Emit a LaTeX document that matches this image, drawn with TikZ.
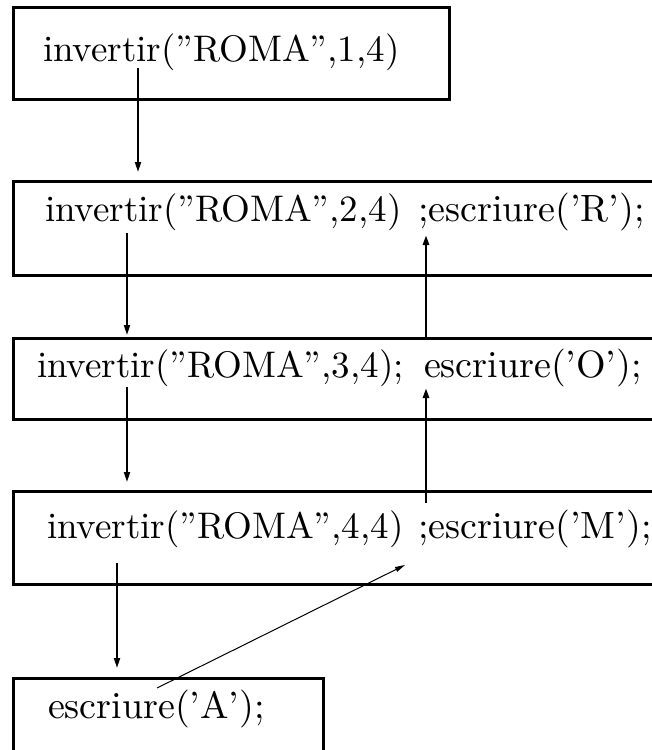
\documentclass[tikz,border=0pt]{standalone}
\usepackage{fontspec}
\newfontfamily\cmten{lmroman10-regular}[Extension=.otf, Ligatures=TeX]
\usetikzlibrary{arrows.meta}
\begin{document}
\begin{tikzpicture}[x=1pt,y=-1pt,
  box/.style={draw, line width=3pt, rectangle, anchor=north west, inner sep=0pt, outer sep=0pt},
  lbl/.style={anchor=base west, inner sep=0pt, outer sep=0pt, font=\cmten\fontsize{37}{44}\selectfont},
  lblb/.style={anchor=base west, inner sep=0pt, outer sep=0pt, font=\cmten\fontsize{38}{45}\selectfont},
  arr/.style={-{Triangle[length=10pt,width=6pt]}, line width=2pt},
  arrup/.style={-{Triangle[length=10pt,width=6pt]}, line width=2.6pt},
  arrthin/.style={-{Triangle[length=10pt,width=5pt]}, line width=1pt}]
\useasboundingbox (0,0) rectangle (652,750);
\clip (0,0) rectangle (652,750);
% boxes
\node[box, minimum width=436pt, minimum height=92pt] (b1) at (13,7) {};
\node[box, minimum width=700pt, minimum height=94pt] (b2) at (13,181) {};
\node[box, minimum width=700pt, minimum height=81pt] (b3) at (13,338) {};
\node[box, minimum width=700pt, minimum height=93pt] (b4) at (13,491) {};
\node[box, minimum width=310pt, minimum height=150pt] (b5) at (13,678) {};
% texts
\node[lbl] (t1) at (43,61) {invertir(”ROMA”,1,4)};
\node[lbl] (t2a) at (45,221) {invertir(”ROMA”,2,4)};
\node[lblb] (t2b) at (418,221) {;escriure(’R’);};
\node[lbl] (t3a) at (37,377) {invertir(”ROMA”,3,4);};
\node[lblb] (t3b) at (424,377) {escriure(’O’);};
\node[lbl] (t4a) at (47,538) {invertir(”ROMA”,4,4)};
\node[lblb] (t4b) at (418,538) {;escriure(’M’);};
\node[lblb] (t5) at (48,718) {escriure(’A’);};
% arrow ends
\coordinate (a1s) at (138,68);  \coordinate (a1e) at (138,172);
\coordinate (a2s) at (127,233); \coordinate (a2e) at (127,335);
\coordinate (a3s) at (127,387); \coordinate (a3e) at (127,482);
\coordinate (a4s) at (117,563); \coordinate (a4e) at (117,668);
\coordinate (u1s) at (426,338); \coordinate (u1e) at (426,235);
\coordinate (u2s) at (426,503); \coordinate (u2e) at (426,388);
\coordinate (ds) at (157,688);  \coordinate (de) at (405,565);
% arrows
\draw[arr] (a1s) -- (a1e);
\draw[arr] (a2s) -- (a2e);
\draw[arr] (a3s) -- (a3e);
\draw[arr] (a4s) -- (a4e);
\draw[arrup] (u1s) -- (u1e);
\draw[arrup] (u2s) -- (u2e);
\draw[arrthin] (ds) -- (de);
\end{tikzpicture}
\end{document}
